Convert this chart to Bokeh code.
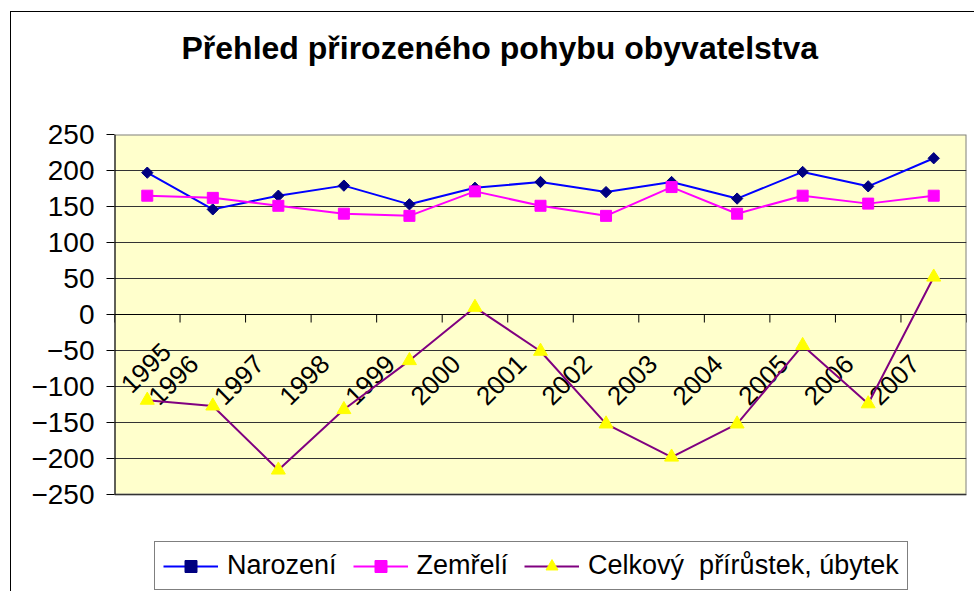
import math
from bokeh.plotting import figure
from bokeh.models import (Range1d, FixedTicker, Legend, LegendItem, ColumnDataSource, Title)
from bokeh.core.properties import value
from bokeh.embed import file_html
from bokeh.resources import INLINE

years = ["1995", "1996", "1997", "1998", "1999", "2000", "2001",
         "2002", "2003", "2004", "2005", "2006", "2007"]
narozeni = [197, 146, 165, 179, 153, 176, 184, 170, 184, 161, 198, 178, 217]
zemreli = [165, 162, 151, 140, 137, 171, 151, 137, 177, 140, 165, 154, 165]
celkovy = [-119, -127, -216, -132, -64, 10, -51, -152, -198, -152, -43, -124, 52]
y_ticks = [-250, -200, -150, -100, -50, 0, 50, 100, 150, 200, 250]

FONT = "Liberation Sans"
n = len(years)
xs = [i + 0.5 for i in range(n)]
bounds = list(range(n + 1))
Y_MIN, Y_MAX = -250, 250

# layout (pixels, relative to the chart canvas which sits inside the chart border)
OX, OY = 11, 12            # page position of the canvas (border at 10 / 11)
W, H = 975 - OX, 592 - OY
LEFT, RIGHT, TOP = 114 - OX, 966 - OX, 134 - OY
PLOT_BOTTOM = 494 - OY     # bottom of the yellow plot area
FRAME_BOTTOM = H - 1       # frame continues below it to hold the legend
units_per_px = (Y_MAX - Y_MIN) / (PLOT_BOTTOM - TOP)
y_start = Y_MIN - (FRAME_BOTTOM - PLOT_BOTTOM) * units_per_px
TICK_LEN = 8 * units_per_px

p = figure(width=W, height=H, output_backend="svg", toolbar_location=None,
           x_range=Range1d(0, n), y_range=Range1d(y_start, Y_MAX),
           min_border_left=LEFT, min_border_right=W - RIGHT, min_border_top=TOP,
           min_border_bottom=H - FRAME_BOTTOM,
           styles={"margin-left": "10px", "margin-top": "11px",
                   "border-left": "1px solid black", "border-top": "1px solid black"})

p.background_fill_color = "white"
p.border_fill_color = "white"
p.outline_line_color = None

# spacer between title and plot area
p.add_layout(Title(text=" ", text_font_size="10px", standoff=54), "above")

# title
p.title.text = "Přehled přirozeného pohybu obyvatelstva"
p.title.text_font = FONT
p.title.text_font_size = "32px"
p.title.text_font_style = "bold"
p.title.text_color = "black"
p.title.align = "left"
p.title.vertical_align = "top"
p.title.offset = 67
p.title.standoff = 0

# plot area background and border
p.quad(left=[0], right=[n], bottom=[Y_MIN], top=[Y_MAX], fill_color="#FFFFCC",
       line_color="#808080", line_width=2, level="image")

# grid
p.xgrid.visible = False
p.ygrid.ticker = FixedTicker(ticks=y_ticks)
p.ygrid.grid_line_color = "#333333"
p.ygrid.grid_line_width = 1

# y axis
p.yaxis.ticker = FixedTicker(ticks=y_ticks)
p.yaxis.axis_line_color = None
p.yaxis.major_tick_line_color = "black"
p.yaxis.major_tick_out = 8
p.yaxis.major_tick_in = 0
p.yaxis.minor_tick_line_color = None
p.yaxis.major_label_text_font = FONT
p.yaxis.major_label_text_font_size = "28px"
p.yaxis.major_label_text_color = "black"
p.yaxis.major_label_standoff = 12
p.segment(x0=[0], y0=[Y_MIN], x1=[0], y1=[Y_MAX], line_color="black", line_width=2)

# category axis drawn at zero: line + boundary ticks
p.xaxis.visible = False
p.segment(x0=[0], y0=[0], x1=[n], y1=[0], line_color="black", line_width=1)
p.segment(x0=bounds, y0=[0] * len(bounds), x1=bounds, y1=[-TICK_LEN] * len(bounds),
          line_color="black", line_width=1)

# year labels (first one nudged so it stays inside the plot area)
x_offs = [19] + [-19] * (n - 1)
y_offs = [33] + [45] * (n - 1)
lab_src = ColumnDataSource(dict(x=xs, y=[0] * n, t=years, xo=x_offs, yo=y_offs))
p.text(x="x", y="y", text="t", source=lab_src, angle=math.pi / 4,
       text_align="right", text_baseline="middle", x_offset="xo", y_offset="yo",
       text_font=value(FONT), text_font_size="26px", text_color="black")

# series
l1 = p.line(xs, narozeni, line_color="#0000FF", line_width=2)
m1 = p.scatter(xs, narozeni, marker="square", size=8, angle=math.pi / 4,
               fill_color="#000080", line_color="#000080")
l2 = p.line(xs, zemreli, line_color="#FF00FF", line_width=2)
m2 = p.scatter(xs, zemreli, marker="square", size=11,
               fill_color="#FF00FF", line_color="#FF00FF")
l3 = p.line(xs, celkovy, line_color="#800080", line_width=2)
m3 = p.scatter(xs, celkovy, marker="triangle", size=14,
               fill_color="#FFFF00", line_color="#FFFF00")

legend = Legend(items=[
    LegendItem(label="Narození", renderers=[l1, m1]),
    LegendItem(label="Zemřelí", renderers=[l2, m2]),
    LegendItem(label="Celkový  přírůstek, úbytek", renderers=[l3, m3]),
], orientation="horizontal", location=(40, 1))
legend.label_text_font = FONT
legend.label_text_font_size = "27px"
legend.label_text_color = "black"
legend.glyph_width = 55
legend.glyph_height = 30
legend.label_standoff = 9
legend.spacing = 16
legend.padding = 8
legend.margin = 0
legend.border_line_color = "black"
legend.border_line_width = 1
legend.background_fill_color = "white"
legend.background_fill_alpha = 1
p.add_layout(legend)

open("out.html", "w").write(file_html(p, INLINE))
